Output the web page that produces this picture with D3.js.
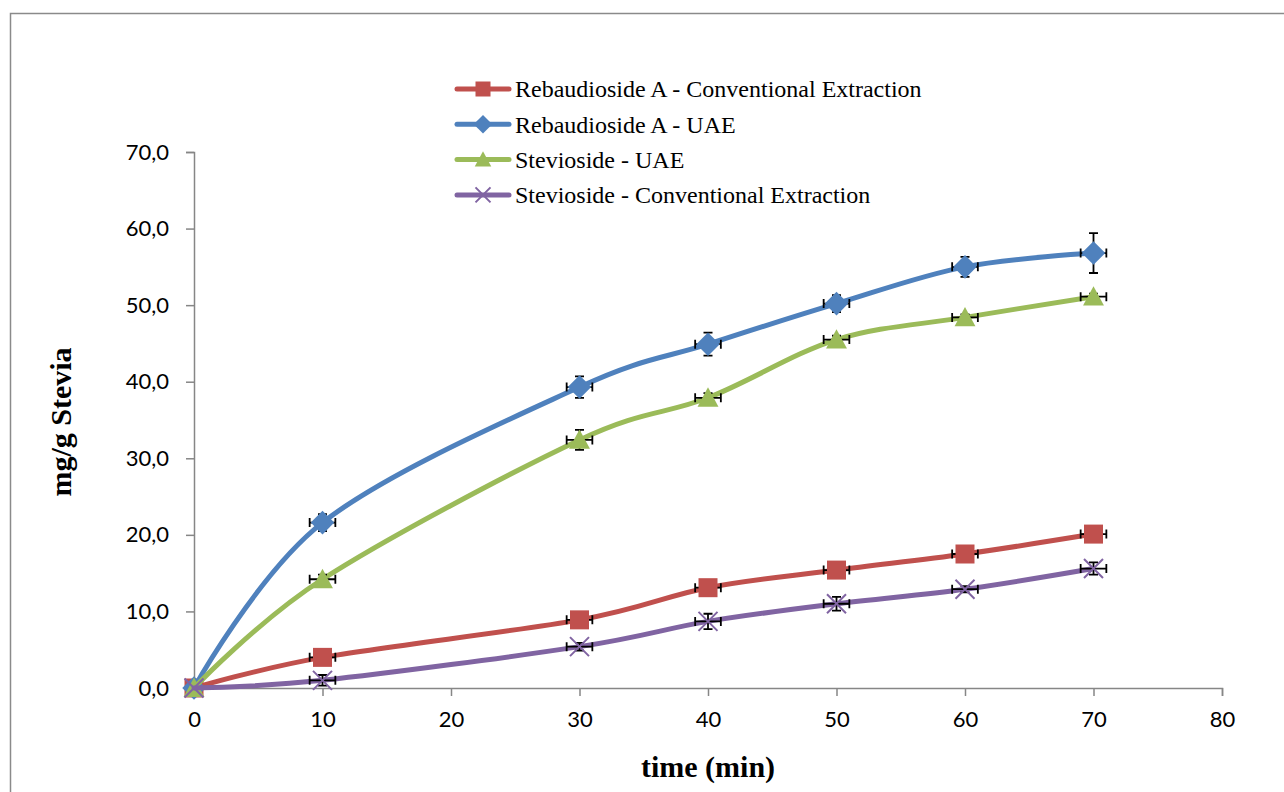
<!DOCTYPE html>
<html>
<head>
<meta charset="utf-8">
<script src="https://cdn.jsdelivr.net/npm/d3@7"></script>
<style>
  html, body { margin: 0; padding: 0; background: #fff; }
  svg { display: block; }
</style>
</head>
<body>
<svg id="chart" width="1284" height="792"></svg>
<script>
// Extraction time (min)
const times = [0, 10, 30, 40, 50, 60, 70];

// Content in mg/g Stevia
const rebAConv = [0, 4.0, 8.9, 13.1, 15.4, 17.5, 20.1];
const rebAUae  = [0, 21.6, 39.3, 44.9, 50.2, 55.0, 56.8];
const stevUae  = [0, 14.2, 32.4, 37.9, 45.5, 48.4, 51.1];
const stevConv = [0, 1.0, 5.4, 8.7, 11.0, 12.9, 15.6];

// Standard deviations (mg/g)
const rebAConvErr = [0, 0.4, 0.5, 0.5, 0.5, 0.4, 0.5];
const rebAUaeErr  = [0, 1.1, 1.4, 1.5, 1.1, 1.3, 2.6];
const stevUaeErr  = [0, 0.6, 1.3, 0.6, 0.5, 0.4, 0.4];
const stevConvErr = [0, 0.7, 0.5, 1.0, 0.9, 0.4, 0.8];

// Time uncertainty (min)
const timeErr = 1.0;

const seriesNames = [
  "Rebaudioside A - Conventional Extraction",
  "Rebaudioside A - UAE",
  "Stevioside - UAE",
  "Stevioside - Conventional Extraction"
];
const seriesValues = [rebAConv, rebAUae, stevUae, stevConv];
const seriesErrors = [rebAConvErr, rebAUaeErr, stevUaeErr, stevConvErr];
const seriesColors = ["#C0504D", "#4F81BD", "#9BBB59", "#8064A2"];
const seriesMarkers = ["square", "diamond", "triangle", "cross"];

const xTicks = [0, 10, 20, 30, 40, 50, 60, 70, 80];
const yTicks = [0, 10, 20, 30, 40, 50, 60, 70];

const svg = d3.select("#chart");

// outer chart frame
svg.append("rect")
  .attr("x", 10.5).attr("y", 13.5)
  .attr("width", 1290).attr("height", 800)
  .attr("fill", "none").attr("stroke", "#8a8a8a").attr("stroke-width", 1.5);

const x = d3.scaleLinear().domain([0, 80]).range([194, 1222]);
const y = d3.scaleLinear().domain([0, 70]).range([688, 152]);

const fmt = v => d3.format(".1f")(v).replace(".", ",");
const axisColor = "#868686";
const tickFont = "Lato, 'Open Sans', sans-serif";

// y axis
const gy = svg.append("g")
  .attr("transform", `translate(${x(0)},0)`)
  .call(d3.axisLeft(y).tickValues(yTicks).tickFormat(fmt).tickSize(8).tickPadding(17));
// x axis
const gx = svg.append("g")
  .attr("transform", `translate(0,${y(0)})`)
  .call(d3.axisBottom(x).tickValues(xTicks).tickFormat(d3.format("d")).tickSize(8).tickPadding(15));

[gx, gy].forEach(g => {
  g.select(".domain").attr("stroke", axisColor).attr("stroke-width", 1.5);
  g.selectAll(".tick line").attr("stroke", axisColor).attr("stroke-width", 1.5);
  g.selectAll(".tick text")
    .attr("fill", "#000")
    .style("font-family", tickFont)
    .style("font-size", "22px");
});

// axis titles
svg.append("text")
  .attr("x", 708).attr("y", 777)
  .attr("text-anchor", "middle")
  .style("font-family", "'Liberation Serif', 'Times New Roman', serif")
  .style("font-weight", "bold")
  .style("font-size", "30px")
  .text("time (min)");

svg.append("text")
  .attr("transform", "translate(71,422) rotate(-90)")
  .attr("text-anchor", "middle")
  .style("font-family", "'Liberation Serif', 'Times New Roman', serif")
  .style("font-weight", "bold")
  .style("font-size", "30px")
  .text("mg/g Stevia");

// marker drawing
function drawMarker(g, type, color, size) {
  const s = size;
  if (type === "square") {
    g.append("rect")
      .attr("x", -s / 2).attr("y", -s / 2)
      .attr("width", s).attr("height", s)
      .attr("fill", color);
  } else if (type === "diamond") {
    const h = s * 0.62;
    g.append("path")
      .attr("d", `M0,${-h}L${h},0L0,${h}L${-h},0Z`)
      .attr("fill", color);
  } else if (type === "triangle") {
    const h = s * 0.55;
    g.append("path")
      .attr("d", `M0,${-h}L${h},${h * 0.85}L${-h},${h * 0.85}Z`)
      .attr("fill", color);
  } else if (type === "cross") {
    const h = s * 0.5;
    g.append("path")
      .attr("d", `M${-h},${-h}L${h},${h}M${-h},${h}L${h},${-h}`)
      .attr("stroke", color)
      .attr("stroke-width", 2)
      .attr("fill", "none");
  }
}

const line = d3.line()
  .x(d => x(d.t))
  .y(d => y(d.v))
  .curve(d3.curveCatmullRom.alpha(0));

const cap = 4.5;

seriesValues.forEach((vals, i) => {
  const pts = times.map((t, k) => ({ t, v: vals[k], e: seriesErrors[i][k] }));
  const color = seriesColors[i];
  const g = svg.append("g");

  g.append("path")
    .datum(pts)
    .attr("d", line)
    .attr("fill", "none")
    .attr("stroke", color)
    .attr("stroke-width", 5)
    .attr("stroke-linecap", "round");

  // error bars (vertical: mg/g, horizontal: time)
  const eb = g.append("g").attr("stroke", "#000").attr("stroke-width", 1.8).attr("fill", "none");
  pts.filter(p => p.t > 0).forEach(p => {
    const cx = x(p.t), cy = y(p.v);
    const y1 = y(p.v + p.e), y2 = y(p.v - p.e);
    eb.append("path").attr("d",
      `M${cx},${y1}V${y2}M${cx - cap},${y1}H${cx + cap}M${cx - cap},${y2}H${cx + cap}`);
    const x1 = x(p.t - timeErr), x2 = x(p.t + timeErr);
    eb.append("path").attr("d",
      `M${x1},${cy}H${x2}M${x1},${cy - cap}V${cy + cap}M${x2},${cy - cap}V${cy + cap}`);
  });

  pts.forEach(p => {
    const mg = g.append("g").attr("transform", `translate(${x(p.t)},${y(p.v)})`);
    drawMarker(mg, seriesMarkers[i], color, 19);
  });
});

// legend
const legend = svg.append("g");
seriesNames.forEach((name, i) => {
  const ly = 89 + i * 35.3;
  const row = legend.append("g").attr("transform", `translate(0,${ly})`);
  row.append("line")
    .attr("x1", 457).attr("x2", 509)
    .attr("y1", 0).attr("y2", 0)
    .attr("stroke", seriesColors[i])
    .attr("stroke-width", 5)
    .attr("stroke-linecap", "round");
  const mg = row.append("g").attr("transform", "translate(483,0)");
  drawMarker(mg, seriesMarkers[i], seriesColors[i], 15);
  row.append("text")
    .attr("x", 515).attr("y", 0)
    .attr("dy", "0.35em")
    .style("font-family", "'Liberation Serif', 'Times New Roman', serif")
    .style("font-size", "24px")
    .attr("fill", "#000")
    .text(name);
});
</script>
</body>
</html>
